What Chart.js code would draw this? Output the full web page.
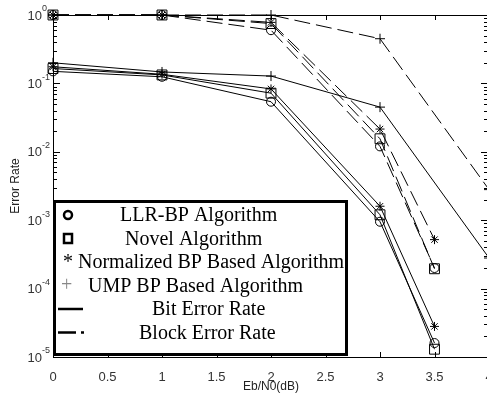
<!DOCTYPE html>
<html>
<head>
<meta charset="utf-8">
<script src="https://cdn.jsdelivr.net/npm/chart.js@4.4.0/dist/chart.umd.min.js"></script>
<style>
  html, body { margin: 0; padding: 0; background: #fff; overflow: hidden; }
  #wrap { width: 487px; height: 394px; overflow: hidden; }
  canvas { display: block; }
</style>
</head>
<body>
<div id="wrap"><canvas id="berChart" width="500" height="394"></canvas></div>
<script>
    // Eb/N0 points (dB)
    const snr = [0, 1, 2, 3, 3.5];
    const snrUmp = [0, 1, 2, 3, 4];
    const xTickValues = [0, 0.5, 1, 1.5, 2, 2.5, 3, 3.5, 4];
    const xTickLabels = ['0', '0.5', '1', '1.5', '2', '2.5', '3', '3.5', '4'];
    const yExponents = [0, -1, -2, -3, -4, -5];

    // bit error rate
    const llrBer = [0.15, 0.125, 0.054, 9.5e-4, 1.6e-5];
    const novelBer = [0.165, 0.133, 0.072, 1.2e-3, 1.3e-5];
    const normBer = [0.175, 0.136, 0.083, 1.6e-3, 2.8e-5];
    const umpBer = [0.2, 0.147, 0.128, 0.045, 2.8e-4];

    // block error rate
    const llrBler = [1, 1, 0.6, 0.012, 2e-4];
    const novelBler = [1, 1, 0.75, 0.0155, 1.95e-4];
    const normBler = [1, 1, 0.78, 0.0215, 5.2e-4];
    const umpBler = [1, 1, 1, 0.45, 2.8e-3];

    const legendRows = [
        { mark: 'circle', text: 'LLR-BP Algorithm', tx: 120 },
        { mark: 'square', text: 'Novel Algorithm', tx: 125 },
        { mark: 'none', text: '* Normalized BP Based Algorithm', tx: 63 },
        { mark: 'plus', text: 'UMP BP Based Algorithm', tx: 88 },
        { mark: 'solid', text: 'Bit Error Rate', tx: 152 },
        { mark: 'dashdot', text: 'Block Error Rate', tx: 139 }
    ];

    const pts = (xs, ys) => xs.map((x, i) => ({ x: x, y: ys[i] }));
    const DASH = [16, 6];

    function series(label, xs, ys, style, radius, dashed) {
        return {
            label: label,
            data: pts(xs, ys),
            clip: false,
            borderColor: '#000',
            borderWidth: 1,
            borderDash: dashed ? DASH : [],
            pointStyle: style,
            pointRadius: radius,
            pointBorderWidth: 1,
            pointBorderColor: '#000',
            pointBackgroundColor: 'rgba(0,0,0,0)',
            tension: 0,
            fill: false
        };
    }

    const frame = {
        id: 'frame',
        beforeDraw(chart) {
            const ctx = chart.ctx;
            ctx.save();
            ctx.fillStyle = '#fff';
            ctx.fillRect(0, 0, chart.width, chart.height);
            ctx.restore();
        },
        beforeDatasetsDraw(chart) {
            const { ctx, chartArea: a, scales: { x, y } } = chart;
            ctx.save();
            ctx.strokeStyle = '#000';
            ctx.lineWidth = 1;
            ctx.strokeRect(Math.round(a.left) + 0.5, Math.round(a.top) + 0.5,
                Math.round(a.right - a.left), Math.round(a.bottom - a.top));

            ctx.beginPath();
            xTickValues.forEach(v => {
                const px = Math.round(x.getPixelForValue(v)) + 0.5;
                ctx.moveTo(px, a.top); ctx.lineTo(px, a.top + 5);
                ctx.moveTo(px, a.bottom); ctx.lineTo(px, a.bottom - 5);
            });
            yExponents.forEach(e => {
                for (let m = 1; m <= 9; m++) {
                    const v = m * Math.pow(10, e);
                    if (v > 1.0001) break;
                    const py = Math.round(y.getPixelForValue(v)) + 0.5;
                    const len = m === 1 ? 7 : 4;
                    ctx.moveTo(a.left, py); ctx.lineTo(a.left + len, py);
                    ctx.moveTo(a.right, py); ctx.lineTo(a.right - len - 1, py);
                }
            });
            ctx.stroke();

            // y tick labels 10^n
            ctx.fillStyle = '#333';
            ctx.textBaseline = 'middle';
            yExponents.forEach(e => {
                const py = y.getPixelForValue(Math.pow(10, e));
                ctx.font = '13px "Liberation Sans", Arial, sans-serif';
                ctx.textAlign = 'right';
                ctx.fillText('10', a.left - 11, py + 1);
                ctx.font = '9px "Liberation Sans", Arial, sans-serif';
                ctx.textAlign = 'left';
                ctx.fillText(e === 0 ? '0' : '-' + (-e), a.left - 11, py - 6);
            });
            ctx.restore();
        },
        afterDraw(chart) {
            const ctx = chart.ctx;
            ctx.save();
            ctx.fillStyle = '#fff';
            ctx.fillRect(54, 201, 293, 155);
            ctx.strokeStyle = '#000';
            ctx.lineWidth = 3;
            ctx.strokeRect(54.5, 201.5, 292, 153);

            ctx.font = '20px "Liberation Serif", "Times New Roman", serif';
            ctx.textBaseline = 'middle';
            ctx.textAlign = 'left';
            legendRows.forEach((row, i) => {
                const ry = 215 + i * 23.5;
                ctx.fillStyle = '#000';
                ctx.strokeStyle = '#000';
                ctx.lineWidth = 2.5;
                ctx.setLineDash([]);
                if (row.mark === 'circle') {
                    ctx.beginPath(); ctx.arc(68, ry, 4, 0, Math.PI * 2); ctx.stroke();
                } else if (row.mark === 'square') {
                    ctx.strokeRect(64, ry - 4.5, 8, 9);
                } else if (row.mark === 'plus') {
                    ctx.fillStyle = '#888';
                    ctx.fillText('+', 61, ry);
                    ctx.fillStyle = '#000';
                } else if (row.mark === 'solid') {
                    ctx.beginPath(); ctx.moveTo(58, ry); ctx.lineTo(83, ry); ctx.stroke();
                } else if (row.mark === 'dashdot') {
                    ctx.beginPath(); ctx.moveTo(58, ry); ctx.lineTo(76, ry);
                    ctx.moveTo(81, ry); ctx.lineTo(84, ry); ctx.stroke();
                }
                ctx.fillText(row.text, row.tx, ry + 1);
            });
            ctx.restore();
        }
    };

    new Chart(document.getElementById('berChart').getContext('2d'), {
        type: 'line',
        data: {
            datasets: [
                series('LLR-BP BER', snr, llrBer, 'circle', 4.5, false),
                series('Novel BER', snr, novelBer, 'rect', 7, false),
                series('Normalized BER', snr, normBer, 'star', 4.5, false),
                series('UMP BER', snrUmp, umpBer, 'cross', 5, false),
                series('LLR-BP BLER', snr, llrBler, 'circle', 4.5, true),
                series('Novel BLER', snr, novelBler, 'rect', 7, true),
                series('Normalized BLER', snr, normBler, 'star', 4.5, true),
                series('UMP BLER', snrUmp, umpBler, 'cross', 5, true)
            ]
        },
        options: {
            responsive: false,
            animation: false,
            devicePixelRatio: 1,
            layout: { padding: { left: 0, top: 15, right: 11, bottom: 0 } },
            plugins: { legend: { display: false }, tooltip: { enabled: false } },
            scales: {
                x: {
                    type: 'linear',
                    min: 0,
                    max: 4,
                    afterBuildTicks: s => { s.ticks = xTickValues.map(v => ({ value: v })); },
                    afterFit: s => { s.height = 37; },
                    grid: { display: false },
                    border: { display: false },
                    ticks: {
                        autoSkip: false,
                        maxRotation: 0,
                        padding: 5,
                        color: '#333',
                        font: { family: '"Liberation Sans", Arial, sans-serif', size: 13 },
                        callback: (v) => {
                            const i = xTickValues.indexOf(v);
                            return i >= 0 ? xTickLabels[i] : '';
                        }
                    },
                    title: {
                        display: true,
                        text: 'Eb/N0(dB)',
                        color: '#222',
                        padding: { top: 0, bottom: 0 },
                        font: { family: '"Liberation Sans", Arial, sans-serif', size: 12 }
                    }
                },
                y: {
                    type: 'logarithmic',
                    min: 1e-5,
                    max: 1,
                    afterFit: s => { s.width = 53; },
                    grid: { display: false },
                    border: { display: false },
                    ticks: { display: false },
                    title: {
                        display: true,
                        text: 'Error Rate',
                        color: '#222',
                        padding: { top: 8, bottom: 0 },
                        font: { family: '"Liberation Sans", Arial, sans-serif', size: 12 }
                    }
                }
            }
        },
        plugins: [frame]
    });
</script>
</body>
</html>
